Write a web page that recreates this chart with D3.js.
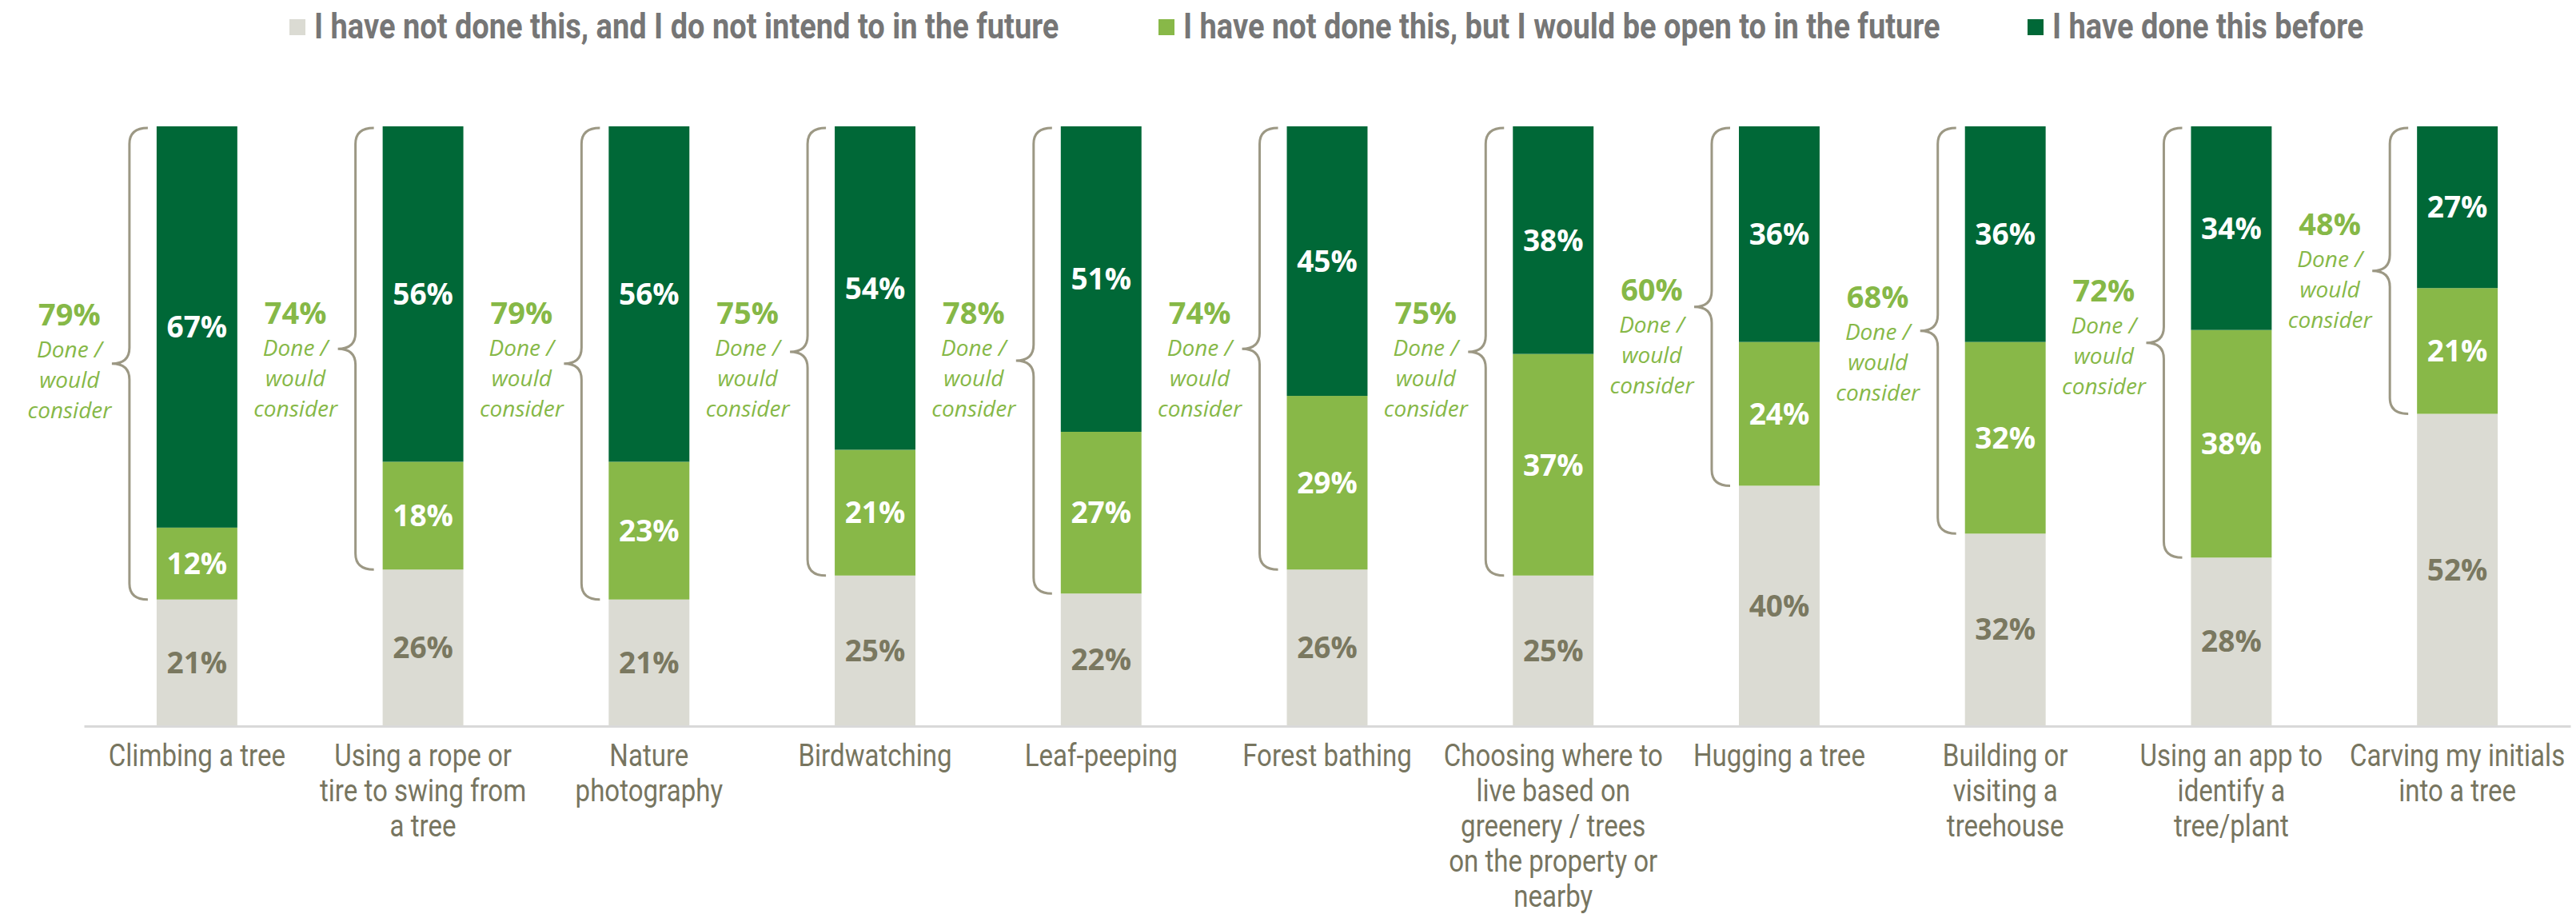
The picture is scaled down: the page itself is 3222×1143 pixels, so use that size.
<!DOCTYPE html>
<html>
<head>
<meta charset="utf-8">
<script src="https://cdn.jsdelivr.net/npm/d3@7"></script>
<style>
  html, body { margin: 0; padding: 0; background: #ffffff; }
  svg { display: block; }
</style>
</head>
<body>
<svg id="chart" width="3222" height="1143"></svg>
<script>
// ---- data ----
const categories = [
  "Climbing a tree",
  "Using a rope or\ntire to swing from\na tree",
  "Nature\nphotography",
  "Birdwatching",
  "Leaf-peeping",
  "Forest bathing",
  "Choosing where to\nlive based on\ngreenery / trees\non the property or\nnearby",
  "Hugging a tree",
  "Building or\nvisiting a\ntreehouse",
  "Using an app to\nidentify a\ntree/plant",
  "Carving my initials\ninto a tree"
];
const seriesNames = [
  "I have not done this, and I do not intend to in the future",
  "I have not done this, but I would be open to in the future",
  "I have done this before"
];
const notIntend  = [21, 26, 21, 25, 22, 26, 25, 40, 32, 28, 52];
const openTo     = [12, 18, 23, 21, 27, 29, 37, 24, 32, 38, 21];
const doneBefore = [67, 56, 56, 54, 51, 45, 38, 36, 36, 34, 27];
const doneOrConsider = [79, 74, 79, 75, 78, 74, 75, 60, 68, 72, 48];
const summaryCaption = ["Done /", "would", "consider"];

// ---- layout / style ----
const W = 3222, H = 1143;
const colors = ["#dbdbd3", "#88b848", "#006837"];
const seriesKeys = ["notIntend", "openTo", "doneBefore"];
const labelColors = ["#7a7860", "#ffffff", "#ffffff"];
const catColor = "#77755f";
const braceColor = "#9c9884";
const accent = "#86b847";
// vertical shift (px) of each summary label relative to its brace tip
const summaryShift = [-48, -31, -50, -35, -46, -31, -35, -8, -29, -52, -45];

const rows = categories.map((c, i) => ({
  cat: c, notIntend: notIntend[i], openTo: openTo[i], doneBefore: doneBefore[i]
}));

const svg = d3.select("#chart");
svg.append("rect").attr("width", W).attr("height", H).attr("fill", "#ffffff");

const x = d3.scaleBand()
  .domain(categories)
  .range([105, 3215])
  .paddingInner(0.643)
  .paddingOuter(0.3215);

const y = d3.scaleLinear().domain([0, 100]).range([907, 158]);

const stack = d3.stack().keys(seriesKeys);
const layers = stack(rows);

// bars
const g = svg.append("g");
layers.forEach((layer, li) => {
  g.selectAll(null)
    .data(layer)
    .join("rect")
    .attr("x", d => x(d.data.cat))
    .attr("y", d => y(d[1]))
    .attr("width", x.bandwidth())
    .attr("height", d => y(d[0]) - y(d[1]))
    .attr("fill", colors[li]);
});

// baseline axis
const axis = d3.axisBottom(x).tickSize(0).tickFormat("");
svg.append("g")
  .attr("transform", `translate(0,${y(0) + 1})`)
  .call(axis)
  .call(s => s.select(".domain").attr("stroke", "#d9d9d9").attr("stroke-width", 3));

// segment value labels
layers.forEach((layer, li) => {
  g.selectAll(null)
    .data(layer)
    .join("text")
    .attr("x", d => x(d.data.cat) + x.bandwidth() / 2)
    .attr("y", d => (y(d[0]) + y(d[1])) / 2)
    .attr("dy", "0.36em")
    .attr("text-anchor", "middle")
    .attr("font-family", "'Open Sans', sans-serif")
    .attr("font-weight", 700)
    .attr("font-size", 37)
    .attr("fill", labelColors[li])
    .text(d => (d[1] - d[0]) + "%");
});

// braces spanning the "done / would consider" share
const r = 20;
rows.forEach((d, i) => {
  const left = x(d.cat);
  const x0 = left - 11, xv = left - 34, xt = left - 56;
  const yTop = y(100) + 2;
  const yBot = y(d.notIntend);
  const yMid = (yTop + yBot) / 2;
  const p = d3.path();
  p.moveTo(x0, yTop);
  p.quadraticCurveTo(xv, yTop, xv, yTop + r);
  p.lineTo(xv, yMid - r);
  p.quadraticCurveTo(xv, yMid, xt, yMid);
  p.quadraticCurveTo(xv, yMid, xv, yMid + r);
  p.lineTo(xv, yBot - r);
  p.quadraticCurveTo(xv, yBot, x0, yBot);
  svg.append("path")
    .attr("d", p.toString())
    .attr("fill", "none")
    .attr("stroke", braceColor)
    .attr("stroke-width", 3);

  const cx = xt - 53;
  const by = yMid + summaryShift[i];
  const t = svg.append("g").attr("fill", accent).attr("text-anchor", "middle")
    .attr("font-family", "'Open Sans', sans-serif");
  t.append("text")
    .attr("x", cx).attr("y", by)
    .attr("font-weight", 700).attr("font-size", 38)
    .text(doneOrConsider[i] + "%");
  summaryCaption.forEach((line, k) => {
    t.append("text")
      .attr("x", cx).attr("y", by + 40 + k * 38)
      .attr("font-style", "italic").attr("font-size", 28)
      .text(line);
  });
});

// category labels (condensed)
rows.forEach(d => {
  const cx = x(d.cat) + x.bandwidth() / 2;
  const lines = d.cat.split("\n");
  const tg = svg.append("g").attr("transform", `translate(${cx},958) scale(0.87,1)`);
  lines.forEach((line, k) => {
    tg.append("text")
      .attr("x", 0).attr("y", k * 44)
      .attr("text-anchor", "middle")
      .attr("font-family", "Roboto, sans-serif")
      .attr("font-size", 38)
      .attr("fill", catColor)
      .text(line);
  });
});

// legend: equal-width entries
const legend = svg.append("g");
const legendScale = 0.845;
const entryWidth = 1087;
seriesNames.forEach((name, i) => {
  const lx = 362 + i * entryWidth;
  legend.append("rect")
    .attr("x", lx).attr("y", 24).attr("width", 20).attr("height", 20)
    .attr("fill", colors[i]);
  legend.append("g")
    .attr("transform", `translate(${lx + 31},48) scale(${legendScale},1)`)
    .append("text")
    .attr("x", 0).attr("y", 0)
    .attr("font-family", "Roboto, sans-serif")
    .attr("font-weight", 700)
    .attr("font-size", 45)
    .attr("fill", "#767676")
    .text(name);
});
</script>
</body>
</html>
